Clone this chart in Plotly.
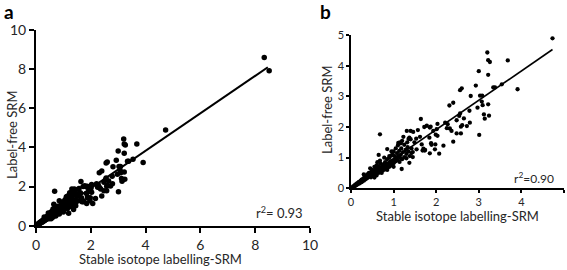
import plotly.graph_objects as go

# ---- data ----
sil_srm = [4.73, 3.20, 3.22, 3.26, 3.68, 3.00, 3.22, 3.91, 3.34, 3.38, 3.54, 2.93, 2.60, 2.56, 2.81, 3.03,
           3.08, 3.07, 2.40, 2.31, 3.22, 3.09, 2.97, 2.56, 2.54, 2.78, 3.12, 3.24, 3.14, 2.65, 2.48, 2.79,
           2.61, 2.58, 2.72, 2.58, 3.01, 2.27, 2.25, 2.36, 2.03, 2.01, 1.99, 2.03, 1.84, 1.88, 1.89, 1.98,
           2.17, 2.07, 1.64, 1.72, 1.87, 1.57, 1.53, 1.70, 1.73, 1.49, 1.23, 1.37, 1.35, 1.54, 1.42, 1.33,
           1.14, 1.19, 0.95, 0.68, 0.85, 0.65, 1.37, 1.78, 1.85, 1.93, 1.46, 1.40, 1.31, 1.11, 1.17, 1.66,
           1.68, 1.97, 1.85, 2.40, 2.48, 2.21, 2.32, 1.62, 1.74,
           0.02, 0.04, 0.05, 0.07, 0.08, 0.10, 0.10, 0.12, 0.13, 0.15, 0.15, 0.17, 0.18, 0.20, 0.20, 0.22,
           0.23, 0.25, 0.25, 0.27, 0.28, 0.30, 0.30, 0.32, 0.33, 0.35, 0.35, 0.37, 0.38, 0.40, 0.40, 0.42,
           0.42, 0.45, 0.45, 0.47, 0.48, 0.50, 0.50, 0.52, 0.53, 0.55, 0.55, 0.57, 0.58, 0.60, 0.60, 0.62,
           0.63, 0.65, 0.65, 0.67, 0.68, 0.70, 0.70, 0.72, 0.73, 0.75, 0.75, 0.77, 0.78, 0.80, 0.80, 0.82,
           0.83, 0.85, 0.85, 0.87, 0.88, 0.90, 0.90, 0.92, 0.93, 0.95, 0.97, 0.98, 1.00, 1.00, 1.02, 1.03,
           1.05, 1.05, 1.07, 1.08, 1.10, 1.10, 1.12, 1.13, 1.15, 1.15, 1.17, 1.18, 1.20, 1.20, 1.22, 1.25,
           1.25, 1.28, 1.30, 1.30, 1.32, 1.35, 1.38, 1.40, 1.42, 1.45, 1.45, 0.30, 0.45, 0.62, 0.78, 0.90,
           0.95, 0.68, 0.55, 0.72, 0.85, 1.00, 0.60]
label_free = [4.89, 4.43, 4.18, 4.12, 4.17, 3.82, 3.70, 3.23, 3.29, 3.29, 3.39, 3.35, 3.26, 3.20, 3.01, 3.02,
              3.02, 2.83, 2.79, 2.70, 2.74, 2.71, 2.63, 2.44, 2.36, 2.53, 2.41, 2.37, 2.27, 2.28, 2.22, 2.14,
              2.06, 2.01, 2.03, 1.79, 1.74, 2.09, 1.96, 1.87, 2.10, 1.93, 1.75, 1.71, 1.65, 1.47, 1.42, 1.43,
              1.39, 1.13, 2.26, 2.00, 2.01, 1.90, 1.62, 1.29, 1.23, 1.50, 1.68, 1.65, 1.61, 1.27, 1.15, 1.34,
              0.86, 0.63, 1.07, 1.76, 1.28, 1.09, 0.83, 2.04, 1.98, 1.87, 1.84, 1.87, 1.87, 1.48, 1.47, 1.43,
              1.23, 1.27, 1.14, 1.52, 1.79, 2.14, 1.95, 1.68, 1.25,
              0.02, 0.03, 0.06, 0.05, 0.09, 0.08, 0.12, 0.10, 0.14, 0.12, 0.17, 0.15, 0.20, 0.16, 0.22, 0.19,
              0.25, 0.20, 0.28, 0.24, 0.30, 0.25, 0.33, 0.28, 0.36, 0.30, 0.40, 0.33, 0.45, 0.35, 0.42, 0.38,
              0.50, 0.40, 0.47, 0.36, 0.55, 0.44, 0.60, 0.50, 0.41, 0.55, 0.70, 0.48, 0.62, 0.52, 0.75, 0.58,
              0.66, 0.50, 0.72, 0.60, 0.56, 0.65, 0.80, 0.62, 0.70, 0.58, 0.76, 0.66, 0.72, 0.62, 0.85, 0.70,
              0.78, 0.66, 0.95, 0.74, 0.82, 0.70, 1.00, 0.80, 0.88, 0.75, 0.90, 1.10, 0.82, 1.20, 0.95, 1.05,
              0.88, 1.30, 1.00, 1.15, 0.92, 1.40, 1.05, 1.22, 1.00, 1.50, 1.10, 1.30, 0.95, 1.55, 1.18, 1.02,
              1.42, 1.25, 0.98, 1.12, 1.50, 1.20, 1.05, 1.60, 1.30, 1.02, 1.18, 0.45, 0.65, 0.85, 1.00, 1.05,
              1.20, 0.90, 0.35, 0.50, 0.60, 0.70, 0.42]
# two high points only visible in panel a
sil_srm_high = [8.33, 8.51]
label_free_high = [8.60, 7.92]

fit_slope = 0.957
fit_intercept = 0.0
fit_end_a = 8.46
fit_end_b = 4.73

ticks_a = [0, 2, 4, 6, 8, 10]
ticks_b = [0, 1, 2, 3, 4, 5]
r2_a = "r<sup>2</sup>= 0.93"
r2_b = "r<sup>2</sup>=0.90"
x_title = "Stable isotope labelling-SRM"
y_title = "Label-free SRM"

W, H = 567, 270
FONT = "Lato"
TXT = "#262626"

def px(x):
    return x / W

def py(y):
    return 1 - y / H

fig = go.Figure()

# panel a
fig.add_trace(go.Scatter(x=sil_srm + sil_srm_high, y=label_free + label_free_high, mode="markers",
                         marker=dict(color="black", size=5.5), xaxis="x", yaxis="y",
                         showlegend=False, cliponaxis=False))
fig.add_trace(go.Scatter(x=[0, fit_end_a], y=[fit_intercept, fit_intercept + fit_slope * fit_end_a],
                         mode="lines", line=dict(color="black", width=2), xaxis="x", yaxis="y",
                         showlegend=False))
# panel b
fig.add_trace(go.Scatter(x=sil_srm, y=label_free, mode="markers",
                         marker=dict(color="black", size=4.3), xaxis="x2", yaxis="y2",
                         showlegend=False, cliponaxis=False))
fig.add_trace(go.Scatter(x=[0, fit_end_b], y=[fit_intercept, fit_intercept + fit_slope * fit_end_b],
                         mode="lines", line=dict(color="black", width=1.6), xaxis="x2", yaxis="y2",
                         showlegend=False))

axis_common = dict(showline=True, linecolor="black", showgrid=False, zeroline=False,
                   ticks="outside", tickcolor="black", fixedrange=True, automargin=False)

fig.update_layout(
    width=W, height=H, margin=dict(l=0, r=0, t=0, b=0),
    plot_bgcolor="white", paper_bgcolor="white",
    font=dict(family=FONT, color=TXT),
    xaxis=dict(domain=[px(36), px(310)], range=[0, 10], tickvals=ticks_a, anchor="y",
               linewidth=2, tickwidth=2, ticklen=5, tickfont=dict(size=14, color=TXT), **axis_common),
    yaxis=dict(domain=[py(225.7), py(30)], range=[0, 10], tickvals=ticks_a, anchor="x",
               linewidth=2, tickwidth=2, ticklen=5, tickfont=dict(size=14, color=TXT), **axis_common),
    xaxis2=dict(domain=[px(351), px(564)], range=[0, 5], tickvals=ticks_b, anchor="y2",
                linewidth=1.5, tickwidth=1.5, ticklen=3, tickfont=dict(size=11, color=TXT), **axis_common),
    yaxis2=dict(domain=[py(188.3), py(35)], range=[0, 5], tickvals=ticks_b, anchor="x2",
                linewidth=1.5, tickwidth=1.5, ticklen=3, tickfont=dict(size=11, color=TXT), **axis_common),
)

ann = [
    dict(text="<b>a</b>", x=px(2), y=py(11), xanchor="left", yanchor="middle", font=dict(size=19, color="black")),
    dict(text="<b>b</b>", x=px(318), y=py(11), xanchor="left", yanchor="middle", font=dict(size=19, color="black")),
    dict(text=x_title, x=px(160), y=py(259), xanchor="center", yanchor="middle", font=dict(size=13)),
    dict(text=y_title, x=px(12), y=py(135), xanchor="center", yanchor="middle", textangle=-90, font=dict(size=13)),
    dict(text=x_title, x=px(457), y=py(216), xanchor="center", yanchor="middle", font=dict(size=13)),
    dict(text=y_title, x=px(327), y=py(110), xanchor="center", yanchor="middle", textangle=-90, font=dict(size=13)),
    dict(text=r2_a, x=px(305), y=py(212), xanchor="right", yanchor="middle", font=dict(size=13)),
    dict(text=r2_b, x=px(556), y=py(178), xanchor="right", yanchor="middle", font=dict(size=12)),
]
for a in ann:
    a.update(xref="paper", yref="paper", showarrow=False)
fig.update_layout(annotations=ann)

fig.write_html("out.html", config={"displayModeBar": False},
               post_script="document.body.style.margin='0';document.body.style.overflow='hidden';")
